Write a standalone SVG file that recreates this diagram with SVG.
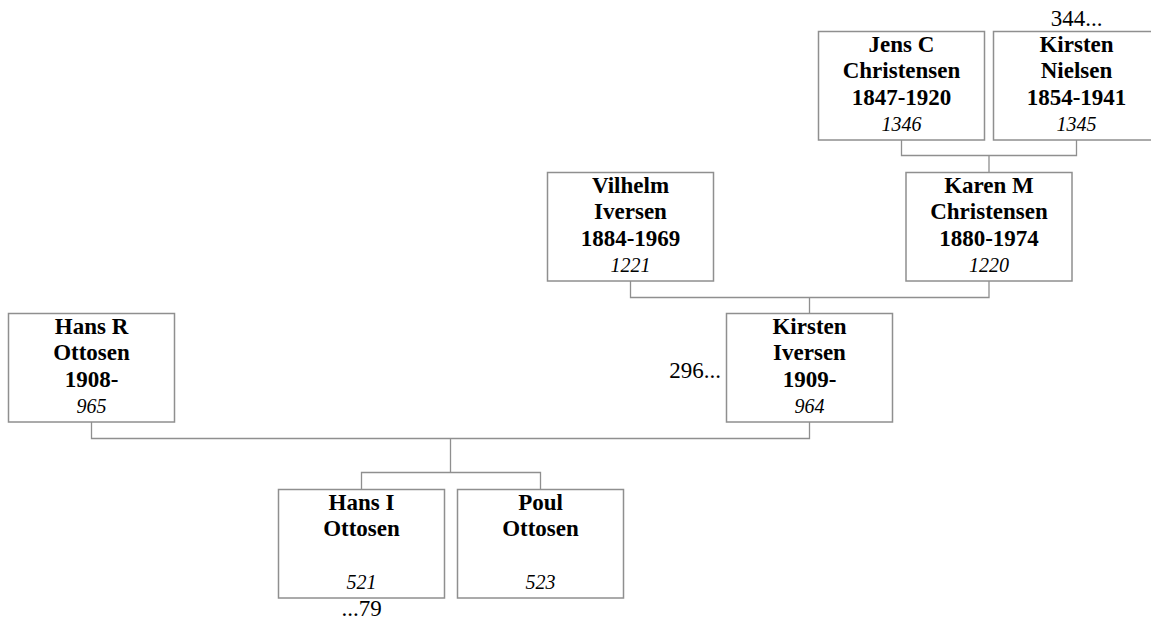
<svg xmlns="http://www.w3.org/2000/svg" width="1151" height="619" viewBox="0 0 1151 619">
<style>
  .box{fill:#fff;stroke:#8f8f8f;stroke-width:1.5}
  .n{font-family:"Liberation Serif","Times New Roman",serif;font-weight:bold;font-size:23px;fill:#000;text-anchor:middle}
  .id{font-family:"Liberation Serif","Times New Roman",serif;font-style:italic;font-size:20px;fill:#000;text-anchor:middle}
  .r{font-family:"Liberation Serif","Times New Roman",serif;font-size:23px;fill:#000}
  .c{fill:none;stroke:#8f8f8f;stroke-width:1.3}
</style>
<rect width="1151" height="619" fill="#fff"/>
<g id="connectors">
  <path class="c" d="M901.5 140 V155.5 H1076.5 V140 M989 155.5 V172.5"/>
  <path class="c" d="M630.5 281 V297.5 H989 V281 M809.5 297.5 V313.5"/>
  <path class="c" d="M91.5 422 V438.5 H809.5 V422 M450.5 438.5 V472.5 M361.5 489.5 V472.5 H540.5 V489.5"/>
</g>
<g id="jens">
  <rect class="box" x="818.5" y="31.5" width="166" height="108.5"/>
  <text class="n" x="901.5" y="51.5">Jens C</text>
  <text class="n" x="901.5" y="78">Christensen</text>
  <text class="n" x="901.5" y="104.5">1847-1920</text>
  <text class="id" x="901.5" y="131">1346</text>
</g>
<g id="kirstenN">
  <rect class="box" x="993.5" y="31.5" width="166" height="108.5"/>
  <text class="n" x="1076.5" y="51.5">Kirsten</text>
  <text class="n" x="1076.5" y="78">Nielsen</text>
  <text class="n" x="1076.5" y="104.5">1854-1941</text>
  <text class="id" x="1076.5" y="131">1345</text>
  <text class="r" x="1076.5" y="26" text-anchor="middle">344...</text>
</g>
<g id="vilhelm">
  <rect class="box" x="547.5" y="172.5" width="166" height="108.5"/>
  <text class="n" x="630.5" y="192.5">Vilhelm</text>
  <text class="n" x="630.5" y="219">Iversen</text>
  <text class="n" x="630.5" y="245.5">1884-1969</text>
  <text class="id" x="630.5" y="272">1221</text>
</g>
<g id="karen">
  <rect class="box" x="906" y="172.5" width="166" height="108.5"/>
  <text class="n" x="989" y="192.5">Karen M</text>
  <text class="n" x="989" y="219">Christensen</text>
  <text class="n" x="989" y="245.5">1880-1974</text>
  <text class="id" x="989" y="272">1220</text>
</g>
<g id="hansR">
  <rect class="box" x="8.5" y="313.5" width="166" height="108.5"/>
  <text class="n" x="91.5" y="333.5">Hans R</text>
  <text class="n" x="91.5" y="360">Ottosen</text>
  <text class="n" x="91.5" y="386.5">1908-</text>
  <text class="id" x="91.5" y="413">965</text>
</g>
<g id="kirstenI">
  <rect class="box" x="726.5" y="313.5" width="166" height="108.5"/>
  <text class="n" x="809.5" y="333.5">Kirsten</text>
  <text class="n" x="809.5" y="360">Iversen</text>
  <text class="n" x="809.5" y="386.5">1909-</text>
  <text class="id" x="809.5" y="413">964</text>
  <text class="r" x="721" y="378" text-anchor="end">296...</text>
</g>
<g id="hansI">
  <rect class="box" x="278.5" y="489.5" width="166" height="108.5"/>
  <text class="n" x="361.5" y="509.5">Hans I</text>
  <text class="n" x="361.5" y="536">Ottosen</text>
  <text class="id" x="361.5" y="589">521</text>
  <text class="r" x="361.5" y="616" text-anchor="middle">...79</text>
</g>
<g id="poul">
  <rect class="box" x="457.5" y="489.5" width="166" height="108.5"/>
  <text class="n" x="540.5" y="509.5">Poul</text>
  <text class="n" x="540.5" y="536">Ottosen</text>
  <text class="id" x="540.5" y="589">523</text>
</g>
</svg>
